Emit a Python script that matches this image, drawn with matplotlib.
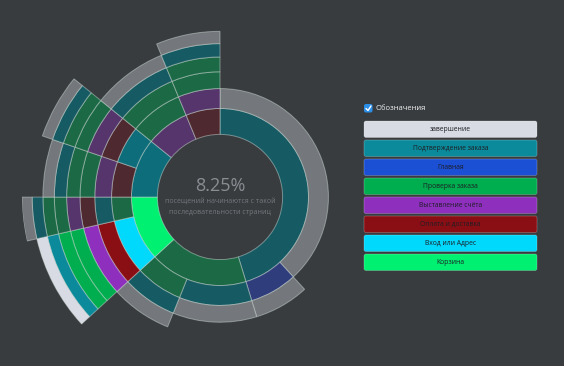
import numpy as np
import matplotlib
matplotlib.use("Agg")
import matplotlib.pyplot as plt
from matplotlib.patches import FancyBboxPatch

plt.rcParams["font.family"] = ["Open Sans", "DejaVu Sans"]

# ---------------- data ----------------
categories = ["завершение", "Подтверждение заказа", "Главная", "Проверка заказа",
              "Выставление счёта", "Оплата и доставка", "Вход или Адрес", "Корзина"]
bright_colors = ["#d8dbe3", "#0b8a9b", "#1b4fd4", "#00ae4f",
                 "#8e2fbd", "#8a0f15", "#00d8fc", "#00f072"]
dim_colors = ["#74787c", "#165a63", "#2f3d7d", "#1c6945",
              "#55356b", "#4f2930", "#1b6170", "#1e7050"]
half_dim_teal = "#0d6d7a"

sequences = [
    ["Подтверждение заказа", "завершение"],
    ["Подтверждение заказа", "Главная", "завершение"],
    ["Проверка заказа", "Подтверждение заказа", "завершение"],
    ["Проверка заказа", "Проверка заказа", "Подтверждение заказа", "завершение"],
    ["Корзина", "Вход или Адрес", "Оплата и доставка", "Выставление счёта",
     "Проверка заказа", "Проверка заказа", "Подтверждение заказа", "завершение"],
    ["Корзина", "Проверка заказа", "Подтверждение заказа", "Оплата и доставка",
     "Выставление счёта", "Проверка заказа", "Проверка заказа", "Подтверждение заказа", "завершение"],
    ["Подтверждение заказа", "Оплата и доставка", "Выставление счёта", "Проверка заказа",
     "Проверка заказа", "Подтверждение заказа", "завершение"],
    ["Подтверждение заказа", "Подтверждение заказа", "Оплата и доставка", "Выставление счёта",
     "Проверка заказа", "Проверка заказа", "Подтверждение заказа", "завершение"],
    ["Выставление счёта", "Проверка заказа", "Проверка заказа", "Подтверждение заказа", "завершение"],
    ["Оплата и доставка", "Выставление счёта", "Проверка заказа", "Проверка заказа",
     "Подтверждение заказа", "завершение"],
]
visits_pct = [38.19, 7.08, 10.83, 7.08, 8.25, 3.56, 5.28, 5.56, 7.92, 6.25]
highlighted = 4
# (sequence index, depth) of nodes drawn in a lighter teal
lighter_nodes = [(6, 0), (7, 1)]

center_value = "8.25%"
center_lines = ["посещений начинаются с такой", "последовательности страниц"]
legend_title = "Обозначения"

# ---------------- layout ----------------
W, H = 564, 366
BG = "#383c3f"
CX, CY = 220, 197          # pixel centre (top-left origin)
R = 198                    # outer radius in px
max_depth = max(len(s) for s in sequences)
levels = max_depth + 1

fig = plt.figure(figsize=(W / 100, H / 100), dpi=100, facecolor=BG)
ax = fig.add_axes([(CX - R) / W, (H - CY - R) / H, 2 * R / W, 2 * R / H], projection="polar")
ax.set_facecolor("none")
ax.set_theta_zero_location("N")
ax.set_theta_direction(-1)
ax.set_ylim(0, R)
ax.set_axis_off()

vals = np.array(visits_pct, dtype=float)
total = vals.sum()
starts = np.concatenate([[0], np.cumsum(vals)[:-1]]) / total * 2 * np.pi
spans = vals / total * 2 * np.pi

def radius(d):
    return R * np.sqrt(d / levels)

cidx = {c: i for i, c in enumerate(categories)}

for d in range(max_depth):
    i = 0
    n = len(sequences)
    while i < n:
        if len(sequences[i]) <= d:
            i += 1
            continue
        prefix = sequences[i][:d + 1]
        j = i
        while j + 1 < n and sequences[j + 1][:d + 1] == prefix:
            j += 1
        t0 = starts[i]
        t1 = starts[j] + spans[j]
        name = prefix[-1]
        hl = i <= highlighted <= j and len(sequences[highlighted]) > d
        if hl:
            col = bright_colors[cidx[name]]
        elif any(i <= si <= j and sd == d for si, sd in lighter_nodes):
            col = half_dim_teal
        else:
            col = dim_colors[cidx[name]]
        r0, r1 = radius(d + 1), radius(d + 2)
        ax.bar((t0 + t1) / 2, r1 - r0, width=t1 - t0, bottom=r0, color=col,
               edgecolor=(0.85, 0.9, 0.88, 0.45), linewidth=0.7, align="center")
        i = j + 1

# ---------------- overlay ----------------
ov = fig.add_axes([0, 0, 1, 1])
ov.set_xlim(0, W)
ov.set_ylim(H, 0)
ov.set_axis_off()
ov.patch.set_alpha(0)

ov.text(CX, 186, center_value, ha="center", va="center", fontsize=13,
        color="#8a8e93")
ov.text(CX, 201.5, center_lines[0], ha="center", va="center", fontsize=5.0, color="#74787d")
ov.text(CX, 212.5, center_lines[1], ha="center", va="center", fontsize=5.0, color="#74787d")

# legend title with checkbox
ov.add_patch(FancyBboxPatch((364, 104), 8.5, 8.5, boxstyle="round,pad=0,rounding_size=2",
                            facecolor="#2b8fe8", edgecolor="none"))
ov.plot([366, 368, 371], [108.5, 110.5, 106], color="white", lw=1.0, solid_capstyle="round")
ov.text(376, 108.5, legend_title, ha="left", va="center", fontsize=5.5, color="#f0f0f0")

box_x0, box_x1 = 364, 537
box_h = 16.5
first_y = 121
step = 19.0
legend_order = ["завершение", "Подтверждение заказа", "Главная", "Проверка заказа",
                "Выставление счёта", "Оплата и доставка", "Вход или Адрес", "Корзина"]
for k, name in enumerate(legend_order):
    y0 = first_y + k * step
    ov.add_patch(FancyBboxPatch((box_x0, y0), box_x1 - box_x0, box_h,
                                boxstyle="round,pad=0,rounding_size=2",
                                facecolor=bright_colors[cidx[name]],
                                edgecolor=(1, 1, 1, 0.25), linewidth=0.6))
    ov.text((box_x0 + box_x1) / 2, y0 + box_h / 2, name, ha="center", va="center",
            fontsize=4.9, color="#1e1e24")

fig.savefig("out.png", dpi=100, facecolor=BG)
